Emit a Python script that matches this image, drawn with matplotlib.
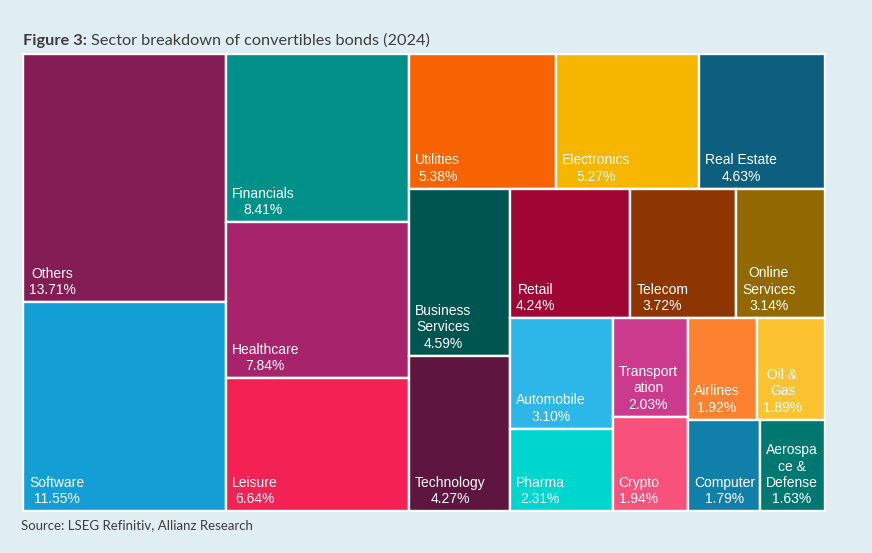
import matplotlib
matplotlib.use("Agg")
from matplotlib import pyplot as plt
from matplotlib.patches import Rectangle

# sector shares (%) in the order of the source, largest first
sectors = ["Others", "Software", "Financials", "Healthcare", "Leisure",
           "Utilities", "Electronics", "Real Estate", "Business\nServices",
           "Technology", "Retail", "Telecom", "Online\nServices", "Automobile",
           "Pharma", "Transport\nation", "Crypto", "Airlines", "Oil &\nGas",
           "Computer", "Aerospa\nce &\nDefense"]
shares = [13.71, 11.55, 8.41, 7.84, 6.64, 5.38, 5.27, 4.63, 4.59, 4.27,
          4.24, 3.72, 3.14, 3.10, 2.31, 2.03, 1.94, 1.92, 1.89, 1.79, 1.63]
colors = ["#851d55", "#149ed6", "#00908a", "#a7246c", "#f42254",
          "#f76300", "#f6b600", "#0c5f7e", "#005550", "#5e1540",
          "#a00633", "#8e3602", "#926900", "#2db6e8", "#00d6d0",
          "#cc3a8e", "#f8517c", "#fd812e", "#fdc22f", "#107faa", "#007872"]

BG = "#e0eef3"
TXT = "#3d3d3d"


def worst(row, side, ratio):
    s = sum(row)
    f = side * side * ratio
    return max(f * max(row) / (s * s), (s * s) / (f * min(row)))


def place(row, side, rect, out, flush=False):
    x, y, w, h = rect
    thick = sum(row) / side
    horizontal = side == w
    if flush:
        thick = h if horizontal else w
    pos = x if horizontal else y
    for a in row:
        step = a / thick
        if horizontal:
            out.append((pos, y, step, thick))
        else:
            out.append((x, pos, thick, step))
        pos += step
    if horizontal:
        rect[1] += thick
        rect[3] -= thick
    else:
        rect[0] += thick
        rect[2] -= thick


def squarify(values, x, y, w, h, ratio=0.91):
    # squarified treemap, rows along the shorter side (y grows downward)
    scale = w * h / sum(values)
    areas = [v * scale for v in values]
    rect = [x, y, w, h]
    out = []
    row = []
    best = float("inf")
    side = min(w, h)
    i = 0
    while i < len(areas):
        row.append(areas[i])
        score = worst(row, side, ratio)
        if score <= best:
            best = score
            i += 1
        else:
            row.pop()
            place(row, side, rect, out)
            side = min(rect[2], rect[3])
            row = []
            best = float("inf")
    if row:
        place(row, side, rect, out, flush=True)
    return out


fig = plt.figure(figsize=(8.72, 5.53), dpi=100, facecolor=BG)
W, H = 804, 459
ax = fig.add_axes([22 / 872, (553 - 512) / 553, W / 872, H / 553])
ax.set_facecolor("white")
ax.set_xlim(0, W)
ax.set_ylim(H, 0)
ax.set_xticks([])
ax.set_yticks([])
for sp in ax.spines.values():
    sp.set_visible(False)

pad = 1
rects = squarify(shares, pad, pad, W - 2 * pad, H - 2 * pad)
for (x, y, w, h), name, val, c in zip(rects, sectors, shares, colors):
    ax.add_patch(Rectangle((x, y), w, h, facecolor=c, edgecolor="white", linewidth=1.7))
    ax.text(x + 6, y + h - 8, f"{name}\n{val:.2f}%", ha="left", va="baseline",
            ma="center", color="white", fontsize=10, family="Liberation Sans")

t1 = fig.text(23 / 872, 1 - 44.5 / 553, "Figure 3:", fontsize=11.8, fontweight="bold",
              family="Lato", color=TXT, va="baseline")
renderer = fig.canvas.get_renderer()
bb = t1.get_window_extent(renderer)
fig.text((bb.x1 + 4) / 872, 1 - 44.5 / 553, "Sector breakdown of convertibles bonds (2024)",
         fontsize=11.7, family="Lato", color=TXT, va="baseline")

fig.text(21 / 872, 1 - 529.5 / 553, "Source: LSEG Refinitiv, Allianz Research",
         fontsize=9.5, family="Lato", color=TXT, va="baseline")

fig.savefig("out.png", dpi=100, facecolor=BG)
